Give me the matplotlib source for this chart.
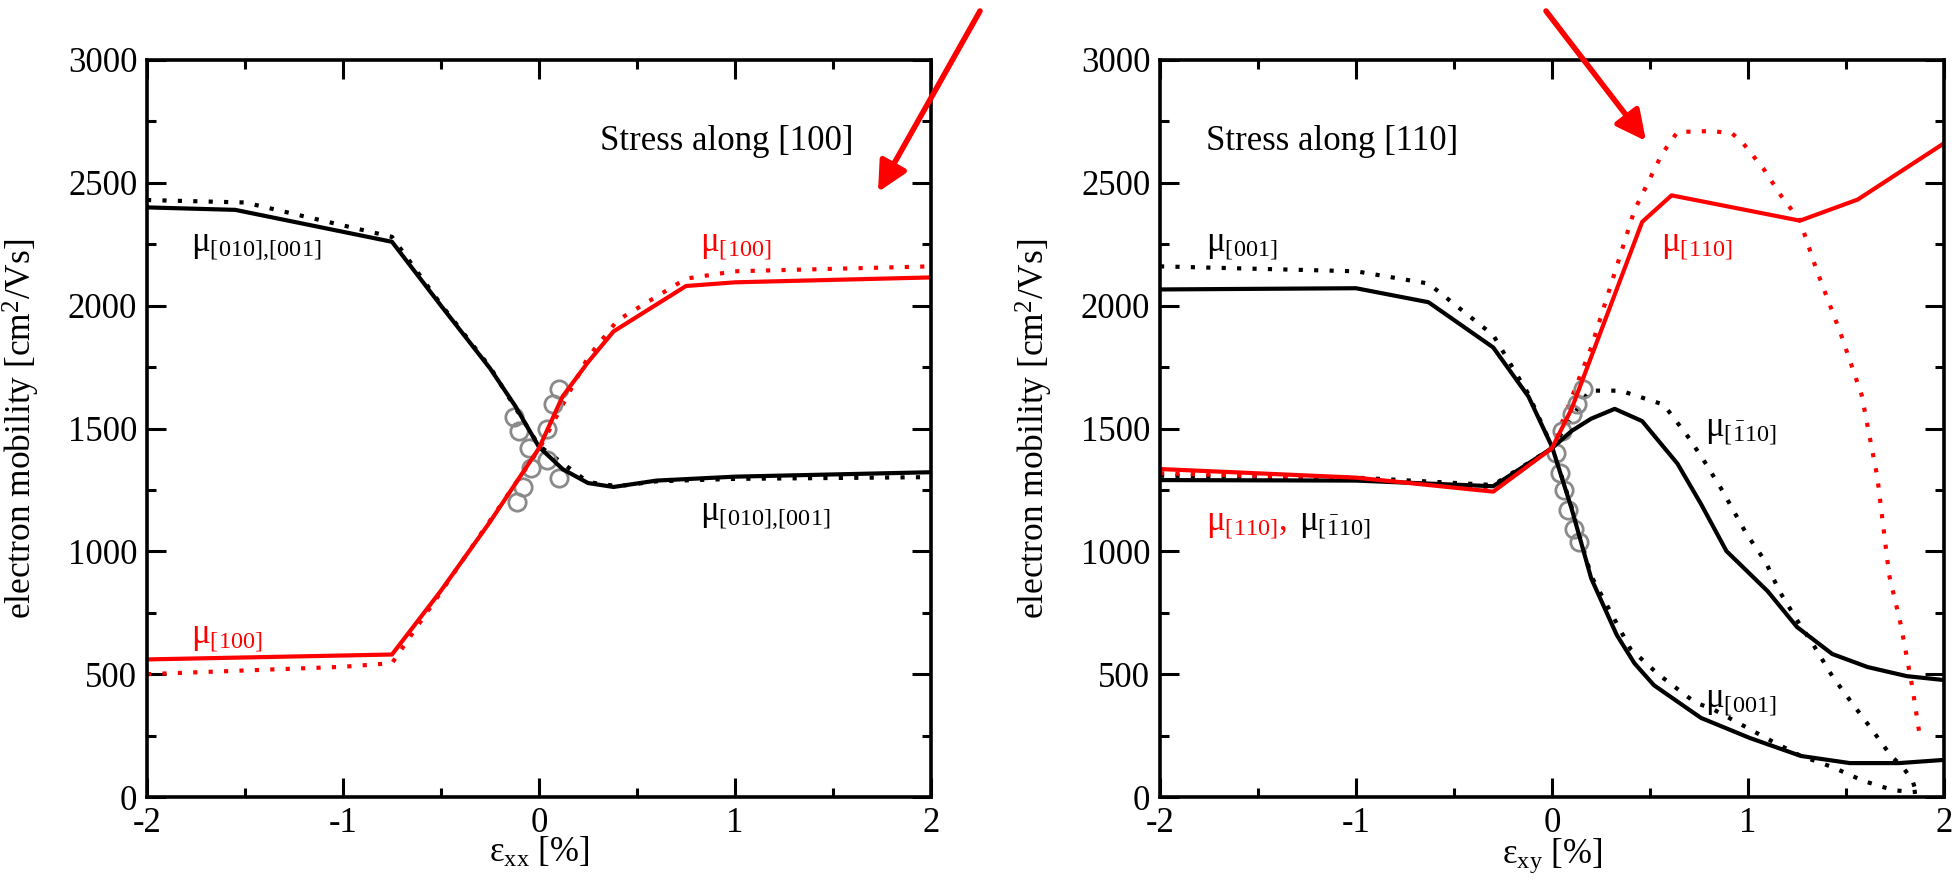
import matplotlib
matplotlib.use("Agg")
import matplotlib.pyplot as plt
from matplotlib.patches import FancyArrowPatch
from matplotlib.ticker import MultipleLocator

plt.rcParams['font.family'] = ['Liberation Serif', 'DejaVu Serif']
plt.rcParams['mathtext.fontset'] = 'custom'
plt.rcParams['mathtext.rm'] = 'Liberation Serif'
plt.rcParams['mathtext.it'] = 'Liberation Serif:italic'
plt.rcParams['mathtext.default'] = 'rm'
plt.rcParams['axes.unicode_minus'] = False

# ---------------- stress along [100] ----------------
exx_black_solid = [-2, -1.55, -0.75, -0.5, -0.25, -0.12, 0, 0.12, 0.25, 0.38, 0.6, 1.0, 2.0]
mu_010_solid = [2400, 2390, 2260, 2000, 1745, 1590, 1425, 1335, 1278, 1262, 1288, 1304, 1322]
exx_black_dot = [-2, -1.5, -0.75, -0.5, -0.25, 0, 0.25, 0.4, 0.6, 1.0, 2.0]
mu_010_dot = [2430, 2420, 2280, 2005, 1750, 1430, 1282, 1265, 1285, 1295, 1302]
exx_red_solid = [-2, -0.75, -0.5, -0.25, 0, 0.12, 0.25, 0.38, 0.5, 0.75, 1.0, 2.0]
mu_100_solid = [560, 580, 840, 1120, 1420, 1630, 1770, 1895, 1955, 2080, 2095, 2115]
exx_red_dot = [-2, -1, -0.75, -0.5, -0.25, 0, 0.25, 0.4, 0.75, 1.0, 2.0]
mu_100_dot = [500, 530, 545, 835, 1125, 1415, 1790, 1940, 2110, 2140, 2160]
exx_exp_a = [-0.11, -0.08, -0.04, 0.04, 0.07, 0.10]
mu_xx_exp_a = [1200, 1260, 1340, 1500, 1600, 1660]
exx_exp_b = [-0.13, -0.10, -0.05, 0.04, 0.10]
mu_xx_exp_b = [1545, 1490, 1420, 1370, 1300]

# ---------------- stress along [110] ----------------
exy_001_solid = [-2, -1, -0.63, -0.3, -0.12, 0, 0.1, 0.2, 0.33, 0.42, 0.52, 0.76, 1.01, 1.27, 1.52, 1.77, 2.0]
mu_001_solid = [2066, 2071, 2014, 1830, 1630, 1426, 1174, 890, 660, 545, 455, 322, 240, 167, 138, 138, 151]
exy_001_dot = [-2, -1, -0.63, -0.3, -0.12, 0, 0.1, 0.2, 0.4, 0.54, 0.73, 0.82, 0.97, 1.12, 1.27,
               1.43, 1.59, 1.74, 1.84, 1.9]
mu_001_dot = [2160, 2140, 2090, 1880, 1640, 1426, 1180, 900, 603, 501, 385, 358, 293, 228, 167,
              122, 65, 28, 20, 25]
exy_m110_solid = [-2, -1, -0.3, 0, 0.1, 0.2, 0.32, 0.46, 0.64, 0.76, 0.89, 1.1, 1.25, 1.43, 1.61, 1.81, 2.0]
mu_m110_solid = [1290, 1288, 1265, 1420, 1490, 1540, 1580, 1530, 1357, 1193, 1001, 838, 692, 582, 529, 492, 476]
exy_m110_dot = [-2, -1, -0.3, 0, 0.19, 0.35, 0.57, 0.7, 0.78, 0.87, 0.99, 1.09, 1.16, 1.25, 1.34, 1.43,
                1.53, 1.63, 1.73, 1.79, 1.84, 1.86]
mu_m110_dot = [1308, 1300, 1270, 1420, 1654, 1654, 1597, 1460, 1363, 1246, 1074, 957, 838, 720, 611, 492,
               383, 277, 167, 122, 65, 15]
exy_110_solid = [-2, -1, -0.3, 0, 0.1, 0.46, 0.61, 1.265, 1.56, 2.0]
mu_110_solid = [1335, 1300, 1243, 1420, 1580, 2341, 2449, 2346, 2432, 2661]
exy_110_dot = [-2, -1, -0.3, 0, 0.2, 0.42, 0.56, 0.64, 0.82, 0.92, 0.97, 1.08, 1.17, 1.265, 1.35,
               1.47, 1.58, 1.66, 1.72, 1.78, 1.84, 1.88]
mu_110_dot = [1318, 1295, 1255, 1420, 1830, 2387, 2616, 2707, 2711, 2700, 2666, 2556, 2446, 2346, 2145,
              1893, 1636, 1302, 904, 700, 440, 229]
exy_exp_a = [0.02, 0.04, 0.06, 0.08, 0.11, 0.14]
mu_xy_exp_a = [1400, 1320, 1250, 1170, 1090, 1040]
exy_exp_b = [0.05, 0.10, 0.13, 0.16]
mu_xy_exp_b = [1490, 1560, 1600, 1660]

x_ticks = [-2, -1, 0, 1, 2]
y_ticks = [0, 500, 1000, 1500, 2000, 2500, 3000]

RED = '#ff0000'
BLACK = '#000000'
GRAY = '#8a8a8a'
FS = 25
SOLID = dict(lw=3.0, solid_capstyle='round')
DOT = dict(lw=3.0, ls=(0, (1, 2.7)))
CIRC = dict(ls='none', marker='o', ms=12.5, mfc='none', mec=GRAY, mew=2.0)

fig = plt.figure(figsize=(19.57, 8.84), dpi=100)
ax1 = fig.add_axes([147 / 1957, 87 / 884, 784 / 1957, 737 / 884])
ax2 = fig.add_axes([1160 / 1957, 87 / 884, 784 / 1957, 737 / 884])


def style(ax, xlabel):
    ax.set_xlim(-2, 2)
    ax.set_ylim(0, 3000)
    ax.set_xticks(x_ticks)
    ax.set_yticks(y_ticks)
    ax.xaxis.set_minor_locator(MultipleLocator(0.5))
    ax.yaxis.set_minor_locator(MultipleLocator(250))
    ax.tick_params(which='both', direction='in', top=True, right=True, width=2.2, labelsize=FS)
    ax.tick_params(which='major', length=14, pad=7)
    ax.tick_params(which='minor', length=6.5)
    for s in ax.spines.values():
        s.set_linewidth(2.6)
    ax.set_ylabel('electron mobility [cm$^2$/Vs]', fontsize=25.5)
    ax.yaxis.set_label_coords(-0.134, 0.5)
    ax.set_xlabel(xlabel, fontsize=FS)
    ax.xaxis.set_label_coords(0.5, -0.053)


# left panel
ax1.plot(exx_black_dot, mu_010_dot, color=BLACK, **DOT)
ax1.plot(exx_red_dot, mu_100_dot, color=RED, **DOT)
ax1.plot(exx_exp_a, mu_xx_exp_a, **CIRC)
ax1.plot(exx_exp_b, mu_xx_exp_b, **CIRC)
ax1.plot(exx_black_solid, mu_010_solid, color=BLACK, **SOLID)
ax1.plot(exx_red_solid, mu_100_solid, color=RED, **SOLID)
style(ax1, r'$ε_{xx}$ [%]')
ax1.text(0.31, 2670, 'Stress along [100]', fontsize=FS, va='center', ha='left')
ax1.text(-1.776, 2245, '$μ_{[010]{,}[001]}$', fontsize=FS, va='center', color=BLACK)
ax1.text(0.82, 2245, '$μ_{[100]}$', fontsize=FS, va='center', color=RED)
ax1.text(0.82, 1150, '$μ_{[010]{,}[001]}$', fontsize=FS, va='center', color=BLACK)
ax1.text(-1.776, 650, '$μ_{[100]}$', fontsize=FS, va='center', color=RED)

# right panel
ax2.plot(exy_001_dot, mu_001_dot, color=BLACK, **DOT)
ax2.plot(exy_m110_dot, mu_m110_dot, color=BLACK, **DOT)
ax2.plot(exy_110_dot, mu_110_dot, color=RED, **DOT)
ax2.plot(exy_exp_a, mu_xy_exp_a, **CIRC)
ax2.plot(exy_exp_b, mu_xy_exp_b, **CIRC)
ax2.plot(exy_001_solid, mu_001_solid, color=BLACK, **SOLID)
ax2.plot(exy_m110_solid, mu_m110_solid, color=BLACK, **SOLID)
ax2.plot(exy_110_solid, mu_110_solid, color=RED, **SOLID)
style(ax2, r'$ε_{xy}$ [%]')
ax2.text(-1.765, 2670, 'Stress along [110]', fontsize=FS, va='center', ha='left')
ax2.text(-1.765, 2245, '$μ_{[001]}$', fontsize=FS, va='center', color=BLACK)
ax2.text(0.556, 2245, '$μ_{[110]}$', fontsize=FS, va='center', color=RED)
ax2.text(0.78, 1490, r'$μ_{[\bar{1}10]}$', fontsize=FS, va='center', color=BLACK)
ax2.text(-1.765, 1110, '$μ_{[110]}{,}$', fontsize=FS, va='center', color=RED)
ax2.text(-1.29, 1110, r'$μ_{[\bar{1}10]}$', fontsize=FS, va='center', color=BLACK)
ax2.text(0.78, 390, '$μ_{[001]}$', fontsize=FS, va='center', color=BLACK)

# red arrows pointing at the curves of interest
arrow = dict(arrowstyle='-|>', color=RED, lw=4, mutation_scale=45, shrinkA=0, shrinkB=0)
fig.add_artist(FancyArrowPatch(
    (980 / 1957, 1 - 11 / 884), (878 / 1957, 1 - 192 / 884),
    transform=fig.transFigure, **arrow))
fig.add_artist(FancyArrowPatch(
    (1546 / 1957, 1 - 11 / 884), (1646 / 1957, 1 - 141 / 884),
    transform=fig.transFigure, **arrow))

fig.savefig('out.png', dpi=100)
